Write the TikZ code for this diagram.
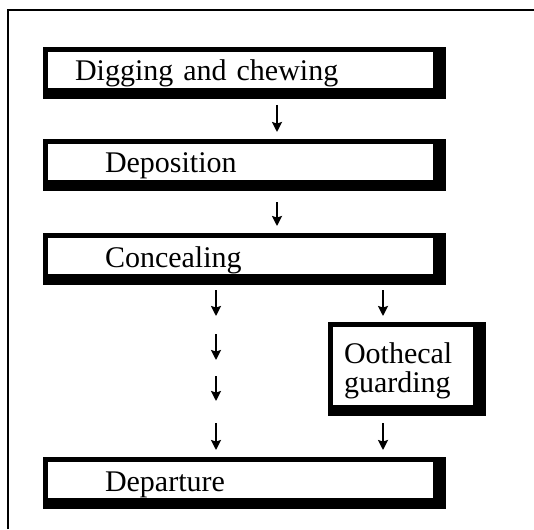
\documentclass[tikz,border=0pt]{standalone}
\usepackage{fontspec}
\setmainfont{Liberation Serif}
\usetikzlibrary{arrows.meta}

\tikzset{
  stage/.style={fill=black, inner sep=0pt, outer sep=0pt, anchor=north west,
    minimum width=201.5pt, minimum height=26pt, text width=#1, align=left,
    text height=10.5pt, text depth=2.5pt,
    font=\fontsize{15pt}{14.5pt}\selectfont,
    path picture={\fill[white] ([shift={(2.5pt,-2.5pt)}]path picture bounding box.north west)
      rectangle ([shift={(-6.5pt,5.5pt)}]path picture bounding box.south east);}},
  stage/.default=139.5pt,
  flow/.style={line width=1.1pt, -{Stealth[length=5pt,width=5pt,inset=0.8pt]}}
}

\begin{document}
\begin{tikzpicture}[x=0.5pt,y=-0.5pt]
  \useasboundingbox (0,0) rectangle (534,529);
  \draw[line width=0.75pt] (8,529) -- (8,10) -- (534,10);

  \node[stage=169.5pt] (dig) at (43,47) {Digging and chewing};
  \node[stage] (depo) at (43,139) {Deposition};
  \node[stage] (conceal) at (43,233) {Concealing};
  \node[stage=63pt, minimum width=79pt, minimum height=47pt,
        text height=10pt, text depth=16pt] (guard) at (328,322) {Oothecal\\guarding};
  \node[stage] (depart) at (43,457) {Departure};

  % short arrows between the stages
  \foreach \n/\x/\y/\l in {1/277/105/27, 2/277/202/24, 3/216/290/26, 4/216/334/26,
                           5/216/376/25, 6/216/423/27, 7/383/290/26, 8/383/423/27}
  {
    \coordinate (top\n) at (\x,\y);
    \coordinate (tip\n) at (\x,\y+\l);
    \draw[flow] (top\n) -- (tip\n);
  }
\end{tikzpicture}
\end{document}
